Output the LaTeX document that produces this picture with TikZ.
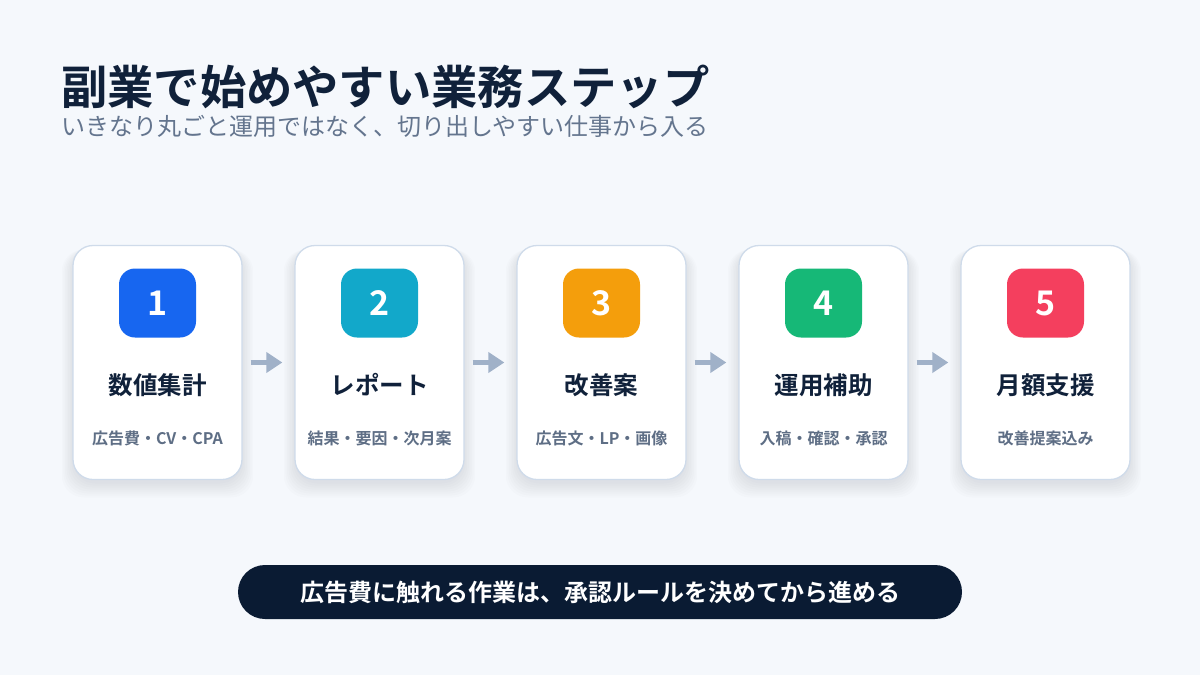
\documentclass[tikz,border=0pt]{standalone}
\usepackage{fontspec}
\setmainfont{Noto Sans CJK JP}[BoldFont={Noto Sans CJK JP Bold}]
\usetikzlibrary{arrows.meta}
\definecolor{bg}{HTML}{F5F8FC}
\definecolor{cardline}{HTML}{CFDBEA}
\definecolor{ink}{HTML}{10213A}
\definecolor{subgrey}{HTML}{64758E}
\definecolor{cardsub}{HTML}{5E6E85}
\definecolor{arrowc}{HTML}{A0B1C8}
\definecolor{banner}{HTML}{0A1B33}
\definecolor{shadowc}{HTML}{1E2A40}
\definecolor{b1}{HTML}{1766F0}
\definecolor{b2}{HTML}{12A8CA}
\definecolor{b3}{HTML}{F49E0C}
\definecolor{b4}{HTML}{16B877}
\definecolor{b5}{HTML}{F43F5E}
\begin{document}
\begin{tikzpicture}[x=1pt,y=-1pt,
  card/.style={draw=cardline, line width=1.3pt, fill=white, rounded corners=20pt,
    minimum width=169pt, minimum height=234pt, inner sep=0pt},
  badge/.style={rounded corners=16pt, minimum width=77pt, minimum height=69pt,
    inner sep=0pt, text=white, font=\bfseries\fontsize{34}{34}\selectfont},
  cardtitle/.style={inner sep=0pt, text=ink, font=\bfseries\fontsize{24.5}{26}\selectfont},
  cardsubtext/.style={inner sep=0pt, text=cardsub, font=\bfseries\fontsize{16}{18}\selectfont},
  flow/.style={draw=arrowc, line width=5pt, -{Triangle[length=16pt,width=20pt]}},
]
\useasboundingbox (0,0) rectangle (1200,675);
\fill[bg] (0,0) rectangle (1200,675);

% heading
\node[anchor=west, inner sep=0pt, text=ink, font=\bfseries\fontsize{46.3}{48}\selectfont]
  (title) at (61,87) {副業で始めやすい業務ステップ};
\node[anchor=west, inner sep=0pt, text=subgrey, font=\fontsize{24}{26}\selectfont]
  (subtitle) at (61,126) {いきなり丸ごと運用ではなく、切り出しやすい仕事から入る};

% cards
\foreach \i/\col/\t/\s in {1/b1/数値集計/広告費・CV・CPA,
                          2/b2/レポート/結果・要因・次月案,
                          3/b3/改善案/広告文・LP・画像,
                          4/b4/運用補助/入稿・確認・承認,
                          5/b5/月額支援/改善提案込み}{
  \pgfmathsetmacro{\cx}{157.5+222*(\i-1)}
  \foreach \k in {0,2,...,14}{
    \fill[shadowc, opacity=0.01, rounded corners=22pt]
      ({\cx-84.5-\k*0.8},{362.5-117+4}) rectangle ({\cx+84.5+\k*0.8},{362.5+117+4+\k});
  }
  \node[card] (card\i) at (\cx,362.5) {};
  \node[badge, fill=\col] (badge\i) at (\cx,303) {\i};
  \node[cardtitle] (ctitle\i) at (\cx,385) {\t};
  \node[cardsubtext] (csub\i) at (\cx,438) {\s};
}

% arrows
\foreach \a/\b in {1/2,2/3,3/4,4/5}{
  \draw[flow] ([xshift=8pt]card\a.east) -- ([xshift=-12pt]card\b.west);
}

% banner
\node[fill=banner, rounded corners=27pt, minimum width=724pt, minimum height=54pt,
  inner sep=0pt, text=white, font=\bfseries\fontsize{24}{26}\selectfont]
  (note) at (600,592) {広告費に触れる作業は、承認ルールを決めてから進める};
\end{tikzpicture}
\end{document}
